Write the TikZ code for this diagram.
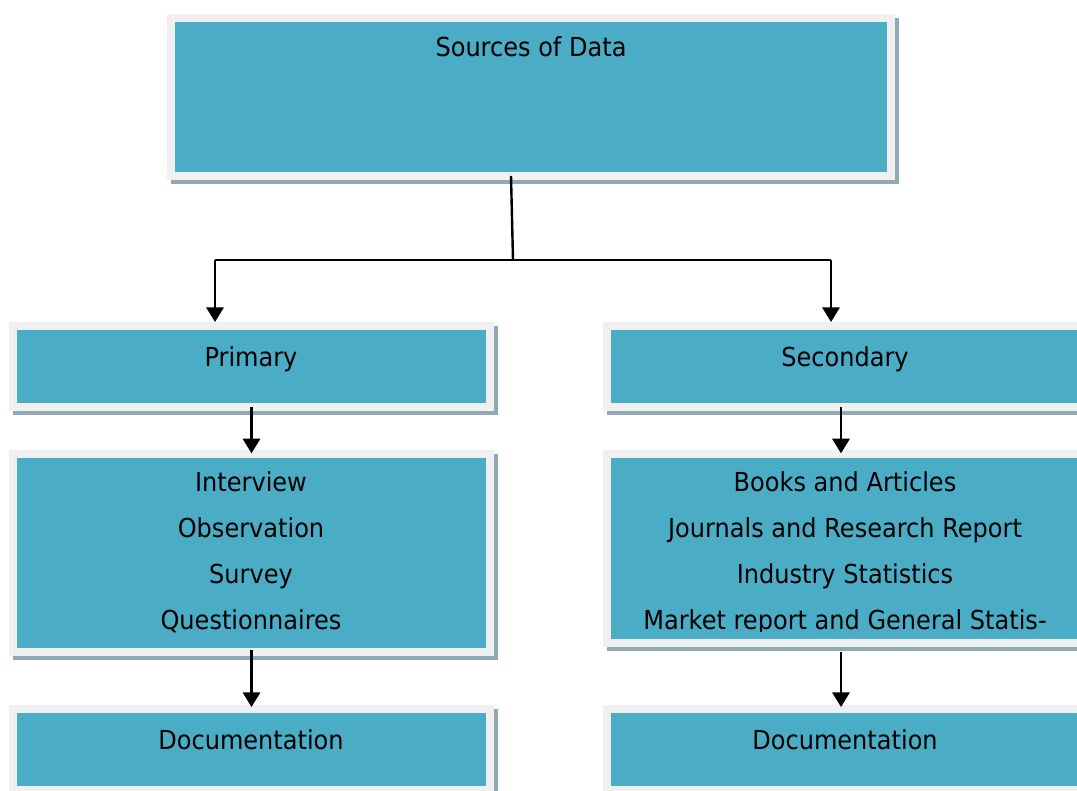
\documentclass[tikz,border=0pt]{standalone}
\usepackage{fontspec}
\setmainfont{DejaVu Sans}[FakeStretch=0.92]
\usetikzlibrary{arrows.meta,backgrounds,calc}
\definecolor{tealc}{HTML}{4BACC6}
\definecolor{greyc}{HTML}{F0F0F0}
\definecolor{shadc}{HTML}{8FAAB4}
\begin{document}
\begin{tikzpicture}[x=0.75pt,y=-0.75pt,
  box/.style={fill=tealc, inner sep=0pt, outer sep=0pt},
  txt/.style={anchor=base, inner sep=0pt, font=\fontsize{19.6}{23}\selectfont, text=black},
  conn/.style={line width=1.8pt, black},
  arr/.style={conn, -{Triangle[width=13pt,length=11pt]}}]
\useasboundingbox (0,0) rectangle (1077,791);
% boxes (teal areas)
\node[box, minimum width=712*0.75pt, minimum height=150*0.75pt] (src) at (531,97) {};
\node[box, minimum width=469*0.75pt, minimum height=73*0.75pt] (pri) at (251.5,366.5) {};
\node[box, minimum width=468*0.75pt, minimum height=73*0.75pt] (sec) at (845,366.5) {};
\node[box, minimum width=469*0.75pt, minimum height=190*0.75pt] (pl) at (251.5,553) {};
\node[box, minimum width=468*0.75pt, minimum height=181*0.75pt] (sl) at (845,548.5) {};
\node[box, minimum width=469*0.75pt, minimum height=73*0.75pt] (pd) at (251.5,749.5) {};
\node[box, minimum width=468*0.75pt, minimum height=73*0.75pt] (sd) at (845,749.5) {};
% frames and shadows
\begin{scope}[on background layer]
\foreach \n in {src,pri,sec,pl,sl,pd,sd}{
  \fill[shadc] ($(\n.north west)+(-4,-4)$) rectangle ($(\n.south east)+(12,12)$);
  \fill[greyc] ($(\n.north west)+(-8,-8)$) rectangle ($(\n.south east)+(8,8)$);
}
\end{scope}
% texts
\node[txt] (t0) at (531,57) {Sources of Data};
\node[txt] (t1) at (251,366) {Primary};
\node[txt] (t2) at (845,366) {Secondary};
\node[txt] (p1) at (251,491) {Interview};
\node[txt] (p2) at (251,537) {Observation};
\node[txt] (p3) at (251,583) {Survey};
\node[txt] (p4) at (251,629) {Questionnaires};
\node[txt] (s1) at (845,491) {Books and Articles};
\node[txt] (s2) at (845,537) {Journals and Research Report};
\node[txt] (s3) at (845,583) {Industry Statistics};
\begin{scope}
\clip (sl.north west) rectangle ([shift={(0,-8)}]sl.south east);
\node[txt] (s4) at (845,629) {Market report and General Statis-};
\end{scope}
\node[txt] (d1) at (251,749) {Documentation};
\node[txt] (d2) at (845,749) {Documentation};
% connectors
\coordinate (jl) at (215,260);
\coordinate (jm) at (513,260);
\coordinate (jr) at (831,260);
\draw[conn] ([shift={(-20,4)}]src.south) -- (jm);
\draw[conn] (jl) -- (jr);
\draw[arr, shorten >=6pt] (jl) -- (jl |- pri.north);
\draw[arr, shorten >=6pt] (jr) -- (jr |- sec.north);
\draw[arr, shorten >=3.5pt] ([shift={(0,4)}]pri.south) -- (pl.north);
\draw[arr, shorten >=3.5pt] ([shift={(-4,4)}]sec.south) -- ([shift={(-4,0)}]sl.north);
\draw[arr, shorten >=4.5pt] ([shift={(0,2)}]pl.south) -- (pd.north);
\draw[arr, shorten >=4.5pt] ([shift={(-4,13)}]sl.south) -- ([shift={(-4,0)}]sd.north);
\end{tikzpicture}
\end{document}
